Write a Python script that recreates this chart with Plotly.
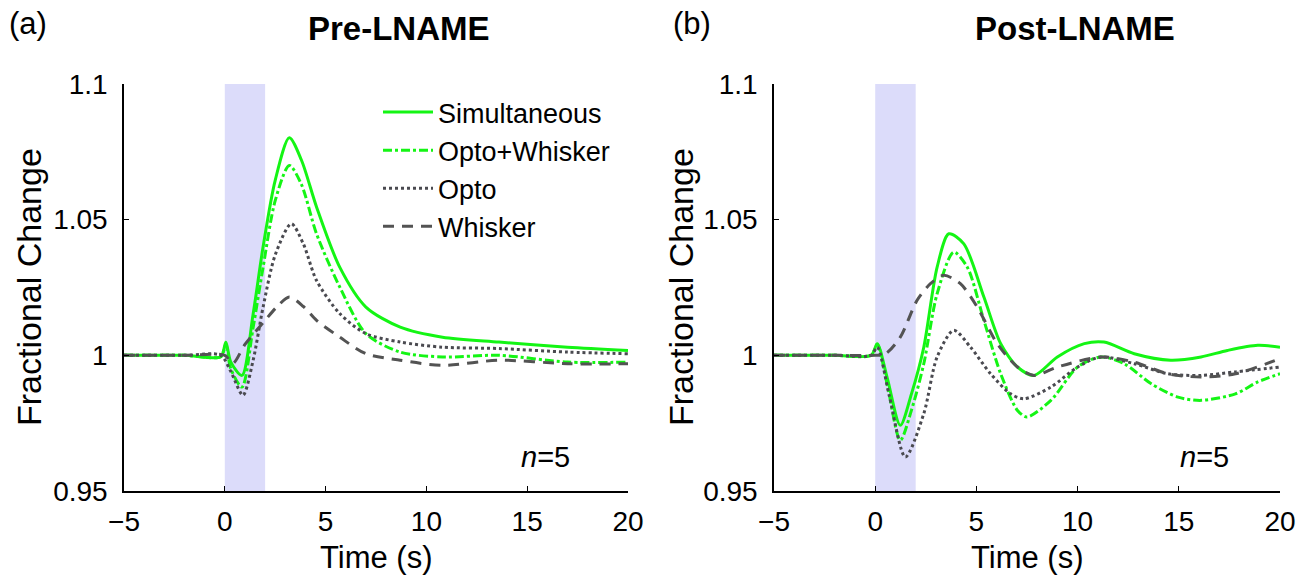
import plotly.graph_objects as go

# ---------------- data ----------------
# Panel (a) Pre-LNAME
pre_sim_t = [-5, -2, -0.2, 0.05, 0.3, 0.85, 1.4, 1.9, 2.5, 3.2, 3.8, 4.55, 5.7, 7.0, 8.7, 10.8, 13.6, 17, 20]
pre_sim_v = [1.0, 1.0, 0.9995, 1.0048, 0.9975, 0.9926, 1.015, 1.040, 1.0645, 1.0802, 1.072, 1.0547, 1.0325, 1.0178, 1.0104, 1.0067, 1.0049, 1.003, 1.0018]

pre_ow_t = [-5, -2, -0.2, 0.05, 0.3, 0.85, 1.4, 1.9, 2.5, 3.2, 3.8, 4.55, 5.7, 7.0, 8.7, 10.8, 13.6, 17, 20]
pre_ow_v = [1.0, 1.0, 0.9995, 1.004, 0.995, 0.9883, 1.010, 1.0325, 1.057, 1.070, 1.063, 1.0448, 1.0252, 1.008, 1.0012, 0.9994, 1.0, 0.9975, 0.9975]

pre_opto_t = [-5, -2, -0.2, 0.3, 0.9, 1.4, 1.9, 2.5, 3.3, 3.9, 4.55, 5.7, 7.0, 8.7, 10.8, 13.6, 17, 20]
pre_opto_v = [1.0, 1.0, 1.0, 0.994, 0.9853, 0.998, 1.0178, 1.037, 1.0485, 1.041, 1.0276, 1.0154, 1.008, 1.0049, 1.003, 1.0025, 1.0012, 1.0006]

pre_wh_t = [-5, -2, 0, 0.4, 1.0, 1.9, 2.6, 3.2, 3.9, 4.55, 5.7, 7.0, 8.7, 10.8, 13.6, 17, 20]
pre_wh_v = [1.0, 1.0, 1.0, 0.997, 1.004, 1.012, 1.018, 1.0215, 1.018, 1.0129, 1.0067, 1.0006, 0.9982, 0.9963, 0.9982, 0.9969, 0.9969]

# Panel (b) Post-LNAME
post_sim_t = [-5, -2, -0.2, 0.1, 0.6, 1.24, 1.8, 2.4, 3.06, 3.64, 4.38, 5.37, 6.2, 7.03, 7.85, 9.0, 10.33, 11.3, 12.8, 14.6, 16.1, 17.4, 18.9, 20]
post_sim_v = [1.0, 1.0, 1.0, 1.0043, 0.9915, 0.9742, 0.986, 1.003, 1.0325, 1.0448, 1.0411, 1.0215, 1.0043, 0.9957, 0.9926, 0.9994, 1.0043, 1.0049, 1.0006, 0.9982, 0.9994, 1.0018, 1.0037, 1.003]

post_ow_t = [-5, -2, -0.2, 0.1, 0.6, 1.24, 1.8, 2.4, 3.06, 3.88, 4.55, 5.37, 6.2, 7.03, 7.5, 8.68, 10.0, 11.16, 12.3, 13.64, 14.96, 16.1, 17.8, 18.9, 20]
post_ow_v = [1.0, 1.0, 1.0, 1.004, 0.989, 0.9687, 0.980, 0.9969, 1.0227, 1.038, 1.0325, 1.0129, 0.9932, 0.9797, 0.9773, 0.9834, 0.9957, 0.9994, 0.9969, 0.9895, 0.9846, 0.9834, 0.9858, 0.9902, 0.9932]

post_opto_t = [-5, -2, -0.2, 0.1, 0.7, 1.49, 2.4, 3.06, 3.88, 4.71, 5.7, 6.69, 7.35, 8.68, 10.0, 11.16, 12.8, 14.46, 16.1, 17.8, 20]
post_opto_v = [1.0, 1.0, 1.0, 1.003, 0.985, 0.9625, 0.9785, 0.9994, 1.0092, 1.003, 0.9932, 0.9858, 0.984, 0.9883, 0.9957, 0.9994, 0.9969, 0.9932, 0.9926, 0.9939, 0.9957]

post_wh_t = [-5, -2, 0, 0.5, 1.24, 2.07, 2.73, 3.39, 4.21, 5.04, 6.03, 7.03, 7.85, 9.0, 11.16, 12.8, 14.46, 16.1, 17.8, 20]
post_wh_v = [1.0, 1.0, 1.0, 1.0005, 1.0067, 1.0203, 1.0264, 1.0295, 1.0264, 1.0178, 1.0043, 0.9957, 0.9926, 0.9957, 0.9994, 0.9975, 0.9932, 0.992, 0.9932, 0.9988]

series_names = ["Simultaneous", "Opto+Whisker", "Opto", "Whisker"]
stim_window = [0, 2]
x_ticks = [-5, 0, 5, 10, 15, 20]
x_tick_text = ["\u22125", "0", "5", "10", "15", "20"]
y_ticks = [0.95, 1.0, 1.05, 1.1]
y_tick_text = ["0.95", "1", "1.05", "1.1"]
panel_titles = ["Pre-LNAME", "Post-LNAME"]
panel_labels = ["(a)", "(b)"]

# ---------------- styling ----------------
GREEN = "#14f514"
GRAY = "#4a4a50"
styles = [
    dict(color=GREEN, dash="solid", width=3),
    dict(color=GREEN, dash="dashdot", width=3),
    dict(color=GRAY, dash="dot", width=3),
    dict(color="#535353", dash="11px,8px", width=3),
]
FONT = "Liberation Sans, Arial, sans-serif"

fig = go.Figure()

panels = [
    ([pre_sim_t, pre_ow_t, pre_opto_t, pre_wh_t], [pre_sim_v, pre_ow_v, pre_opto_v, pre_wh_v], "x", "y", True),
    ([post_sim_t, post_ow_t, post_opto_t, post_wh_t], [post_sim_v, post_ow_v, post_opto_v, post_wh_v], "x2", "y2", False),
]
for ts, vs, xa, ya, show in panels:
    for name, t, v, st in zip(series_names, ts, vs, styles):
        fig.add_trace(go.Scatter(
            x=t, y=v, mode="lines", name=name, xaxis=xa, yaxis=ya,
            line=dict(color=st["color"], dash=st["dash"], width=st["width"], shape="spline", smoothing=0.8),
            showlegend=show,
        ))

# stimulation window shading
for xr, yr in [("x", "y"), ("x2", "y2")]:
    fig.add_shape(type="rect", xref=xr, yref=yr + " domain", x0=stim_window[0], x1=stim_window[1],
                  y0=0, y1=1, fillcolor="rgb(220,220,250)", line=dict(width=0), layer="below")

W, H = 1309, 585
dom_a = [124 / W, 628 / W]
dom_b = [774 / W, 1280 / W]
dom_y = [1 - 491 / H, 1 - 84 / H]

axis_common = dict(
    showline=True, linecolor="black", linewidth=1.5, ticks="inside", ticklen=5, tickwidth=1.2,
    tickcolor="black", showgrid=False, zeroline=False, mirror=False, automargin=False,
    tickfont=dict(family=FONT, size=28, color="black"),
)
fig.update_layout(
    xaxis=dict(domain=dom_a, range=[-5, 20], tickvals=x_ticks, ticktext=x_tick_text, anchor="y",
               ticklabelstandoff=5, **axis_common),
    yaxis=dict(domain=dom_y, range=[0.95, 1.1], tickvals=y_ticks, ticktext=y_tick_text, anchor="x",
               ticklabelstandoff=9, **axis_common),
    xaxis2=dict(domain=dom_b, range=[-5, 20], tickvals=x_ticks, ticktext=x_tick_text, anchor="y2",
                ticklabelstandoff=5, **axis_common),
    yaxis2=dict(domain=dom_y, range=[0.95, 1.1], tickvals=y_ticks, ticktext=y_tick_text, anchor="x2",
                ticklabelstandoff=9, **axis_common),
)

ann = []
for i, (cx, lx) in enumerate([(399, 28), (1075, 692)]):
    ann.append(dict(text="<b>" + panel_titles[i] + "</b>", x=cx / W, y=1 - 28 / H, xref="paper", yref="paper",
                    showarrow=False, font=dict(family=FONT, size=33, color="black"), xanchor="center", yanchor="middle"))
    ann.append(dict(text=panel_labels[i], x=lx / W, y=1 - 24 / H, xref="paper", yref="paper",
                    showarrow=False, font=dict(family=FONT, size=31, color="black"), xanchor="center", yanchor="middle"))
for cx in [376, 1027]:
    ann.append(dict(text="Time (s)", x=cx / W, y=1 - 557 / H, xref="paper", yref="paper", showarrow=False,
                    font=dict(family=FONT, size=31, color="black"), xanchor="center", yanchor="middle"))
for cx in [29, 681]:
    ann.append(dict(text="Fractional Change", x=cx / W, y=1 - 287 / H, xref="paper", yref="paper", showarrow=False,
                    textangle=-90, font=dict(family=FONT, size=34, color="black"), xanchor="center", yanchor="middle"))
for cx in [545, 1204]:
    ann.append(dict(text="<i>n</i>=5", x=cx / W, y=1 - 457 / H, xref="paper", yref="paper", showarrow=False,
                    font=dict(family=FONT, size=29, color="black"), xanchor="center", yanchor="middle"))

fig.update_layout(
    width=W, height=H, margin=dict(l=0, r=0, t=0, b=0),
    paper_bgcolor="white", plot_bgcolor="white",
    annotations=ann,
    legend=dict(x=378 / W, y=1 - 88 / H, xanchor="left", yanchor="top", bgcolor="rgba(0,0,0,0)",
                font=dict(family=FONT, size=27, color="black"), itemwidth=50, tracegroupgap=0),
    font=dict(family=FONT),
)

fig.write_html("out.html")
